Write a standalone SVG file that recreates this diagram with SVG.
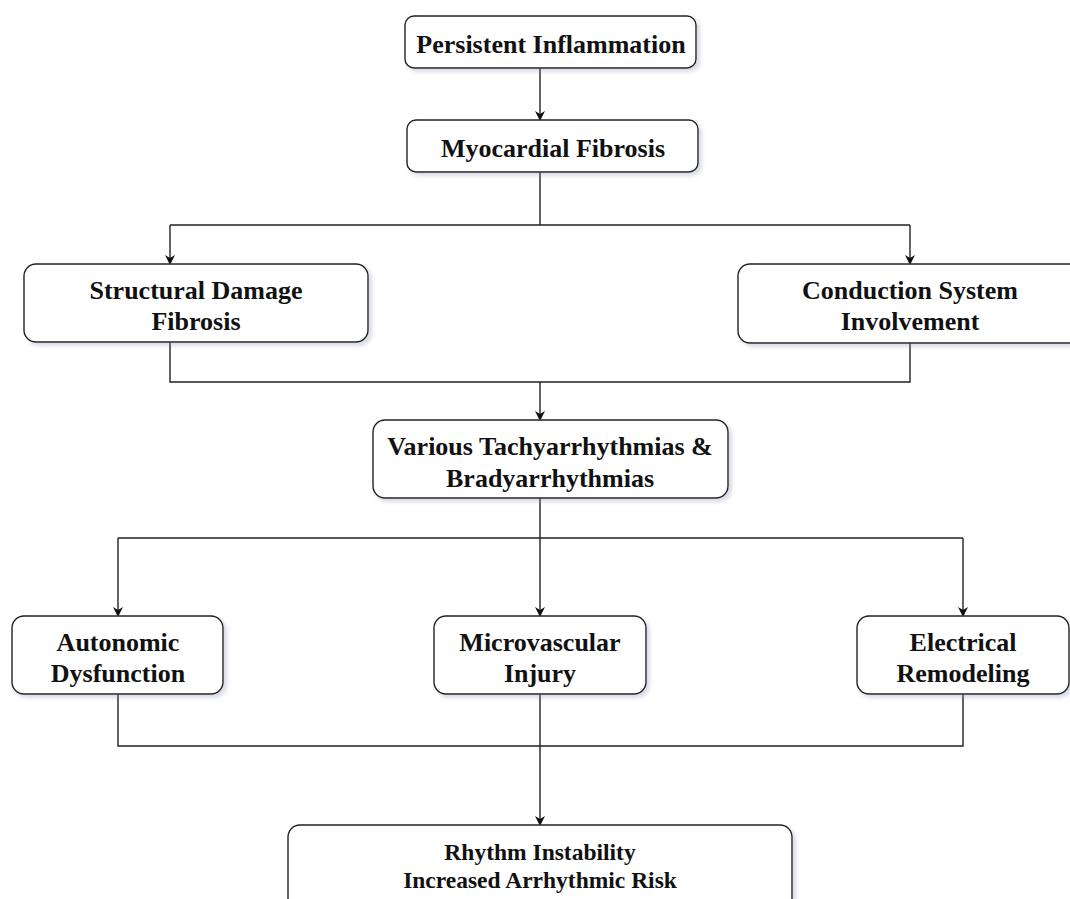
<svg xmlns="http://www.w3.org/2000/svg" width="1070" height="899" viewBox="0 0 1070 899">
<defs>
<filter id="sh" x="-10%" y="-10%" width="130%" height="140%">
<feDropShadow dx="3" dy="3" stdDeviation="2" flood-color="#8a90b0" flood-opacity="0.35"/>
</filter>
<marker id="ah" markerWidth="10" markerHeight="10" refX="8" refY="5" orient="auto" markerUnits="userSpaceOnUse">
<path d="M0,0 L10,5 L0,10 L3,5 Z" fill="#111"/>
</marker>
</defs>
<style>
.box{fill:#fff;stroke:#222;stroke-width:1.4;filter:url(#sh)}
.t{font-family:"Liberation Serif","Times New Roman",serif;font-weight:bold;font-size:26px;fill:#111;text-anchor:middle}
.s{font-size:23.5px}
.c{fill:none;stroke:#222;stroke-width:1.4}
.a{marker-end:url(#ah)}
</style>
<rect width="1070" height="899" fill="#fff"/>
<g id="connectors">
<path class="c a" d="M540,68 V119"/>
<path class="c" d="M540,172 V225 M170,225 H910"/>
<path class="c a" d="M170,225 V263"/>
<path class="c a" d="M910,225 V263"/>
<path class="c" d="M170,342 V382 H910 V343"/>
<path class="c a" d="M540,382 V419"/>
<path class="c" d="M540,498 V538 M118,538 H963"/>
<path class="c a" d="M118,538 V615"/>
<path class="c a" d="M540,538 V615"/>
<path class="c a" d="M963,538 V615"/>
<path class="c" d="M118,694 V746 H963 V694"/>
<path class="c a" d="M540,694 V824"/>
</g>
<g id="n1"><rect class="box" x="405" y="16" width="291" height="52" rx="9"/><text class="t" x="551" y="53">Persistent Inflammation</text></g>
<g id="n2"><rect class="box" x="407" y="120" width="291" height="52" rx="9"/><text class="t" x="553" y="157">Myocardial Fibrosis</text></g>
<g id="n3"><rect class="box" x="24" y="264" width="344" height="78" rx="12"/><text class="t" x="196" y="299">Structural Damage</text><text class="t" x="196" y="330">Fibrosis</text></g>
<g id="n4"><rect class="box" x="738" y="264" width="344" height="79" rx="12"/><text class="t" x="910" y="299">Conduction System</text><text class="t" x="910" y="330">Involvement</text></g>
<g id="n5"><rect class="box" x="373" y="420" width="355" height="78" rx="12"/><text class="t" x="550" y="455">Various Tachyarrhythmias &amp;</text><text class="t" x="550" y="487">Bradyarrhythmias</text></g>
<g id="n6"><rect class="box" x="12" y="616" width="211" height="78" rx="12"/><text class="t" x="118" y="651">Autonomic</text><text class="t" x="118" y="682">Dysfunction</text></g>
<g id="n7"><rect class="box" x="434" y="616" width="212" height="78" rx="12"/><text class="t" x="540" y="651">Microvascular</text><text class="t" x="540" y="682">Injury</text></g>
<g id="n8"><rect class="box" x="857" y="616" width="212" height="78" rx="12"/><text class="t" x="963" y="651">Electrical</text><text class="t" x="963" y="682">Remodeling</text></g>
<g id="n9"><rect class="box" x="288" y="825" width="504" height="90" rx="12"/><text class="t s" x="540" y="860">Rhythm Instability</text><text class="t s" x="540" y="888">Increased Arrhythmic Risk</text></g>
</svg>
